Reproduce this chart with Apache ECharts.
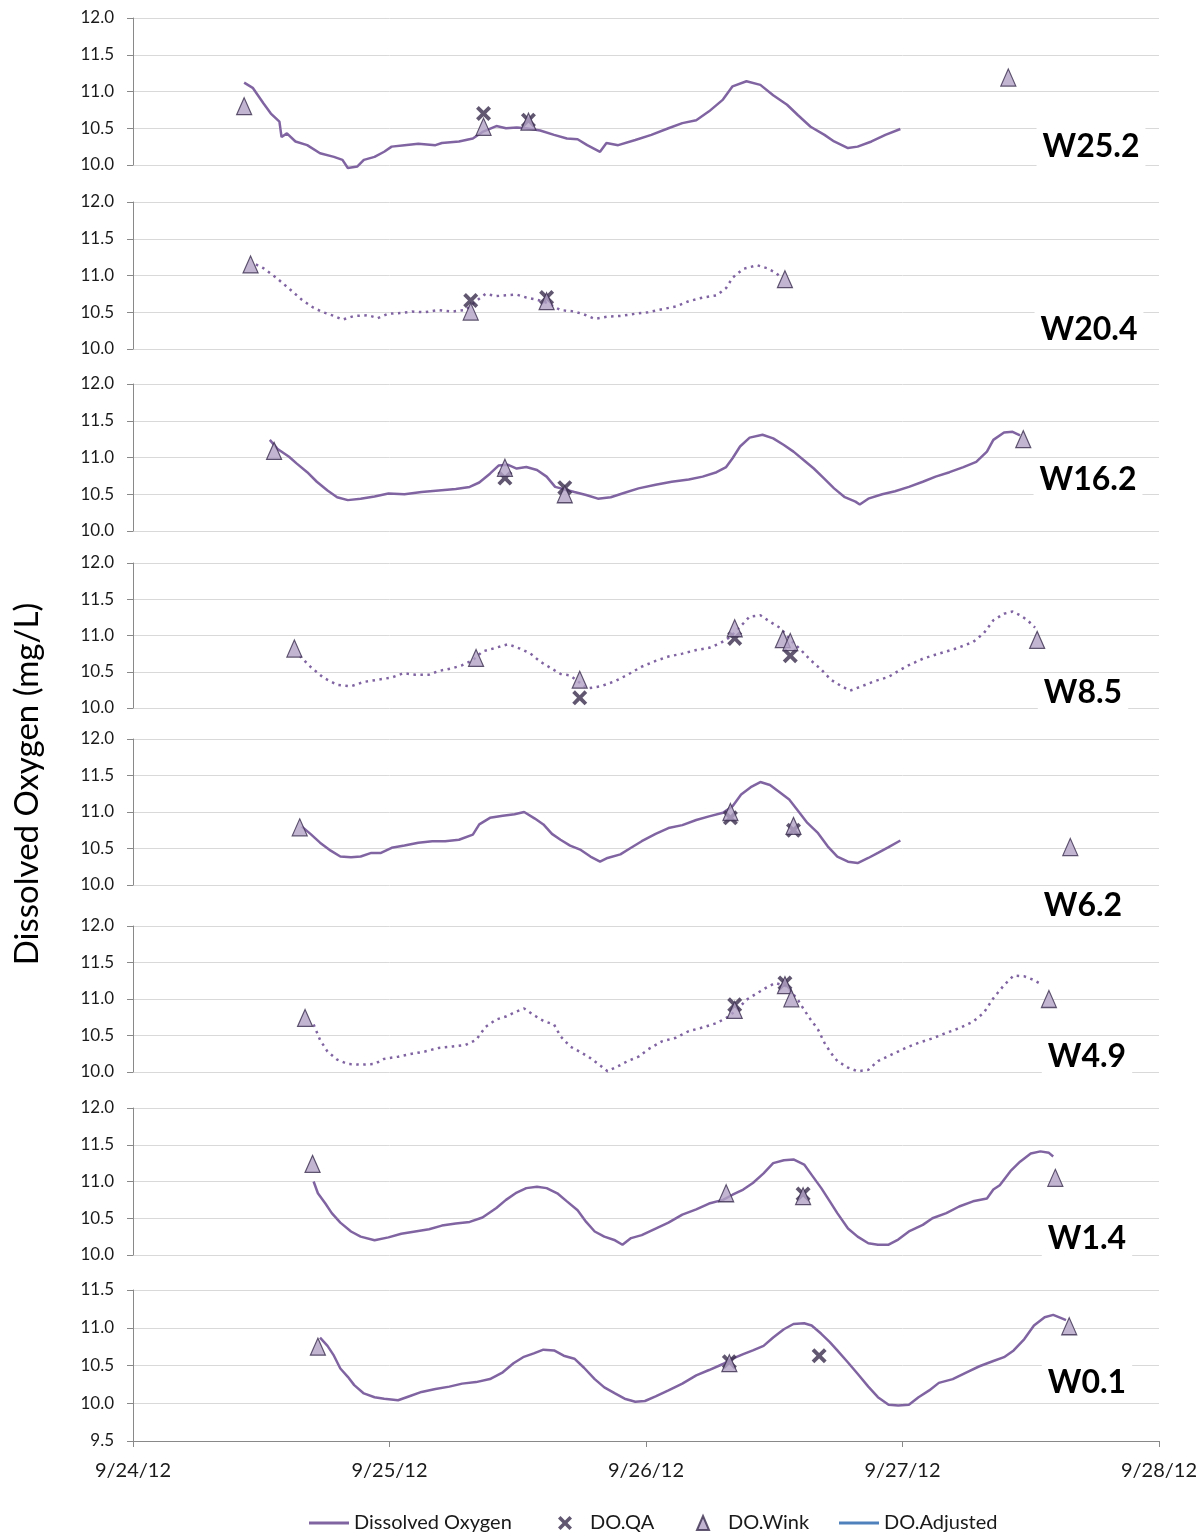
<!DOCTYPE html>
<html>
<head>
<meta charset="utf-8">
<title>Dissolved Oxygen by station</title>
<script src="https://cdn.jsdelivr.net/npm/echarts@6/dist/echarts.min.js"></script>
<style>
  html, body { margin: 0; padding: 0; background: #ffffff; }
  #chart { width: 1204px; height: 1535px; }
</style>
</head>
<body>
<div id="chart"></div>
<script>
// Time is in hours since 9/24/12 00:00; values are dissolved oxygen in mg/L.
const dateLabels = ['9/24/12', '9/25/12', '9/26/12', '9/27/12', '9/28/12'];
const stationNames = ['W25.2', 'W20.4', 'W16.2', 'W8.5', 'W6.2', 'W4.9', 'W1.4', 'W0.1'];
const legendNames = ['Dissolved Oxygen', 'DO.QA', 'DO.Wink', 'DO.Adjusted'];

// ---- W25.2 ----
const w252Line = [[10.4,11.12],[11.2,11.05],[12.2,10.84],[12.9,10.70],[13.7,10.59],[13.9,10.38],[14.4,10.43],[15.2,10.32],[16.3,10.27],[17.5,10.16],[18.8,10.11],[19.6,10.07],[20.1,9.96],[21.0,9.98],[21.6,10.07],[22.6,10.11],[23.5,10.18],[24.2,10.25],[25.4,10.27],[26.7,10.29],[28.3,10.27],[28.9,10.30],[30.5,10.32],[31.8,10.36],[32.7,10.45],[34.0,10.53],[34.9,10.50],[35.9,10.51],[36.8,10.50],[38.1,10.47],[39.4,10.41],[40.6,10.36],[41.6,10.35],[42.5,10.27],[43.7,10.18],[44.3,10.30],[45.4,10.27],[47.0,10.34],[48.5,10.41],[50.1,10.50],[51.4,10.57],[52.7,10.61],[53.9,10.73],[55.2,10.89],[56.1,11.07],[57.4,11.14],[58.7,11.09],[59.9,10.95],[61.2,10.82],[62.2,10.68],[63.4,10.52],[64.7,10.41],[65.6,10.32],[66.9,10.23],[67.8,10.25],[69.1,10.32],[70.4,10.41],[71.8,10.49]];
const w252QA = [[32.8,10.70],[37.0,10.61]];
const w252Wink = [[10.4,10.80],[32.8,10.52],[37.0,10.59],[81.9,11.19]];

// ---- W20.4 ----
const w204Line = [[11.5,11.15],[12.2,11.10],[13.4,10.97],[14.7,10.81],[15.8,10.67],[16.9,10.56],[17.8,10.50],[18.8,10.45],[19.6,10.40],[20.7,10.45],[22.0,10.46],[22.9,10.42],[23.9,10.48],[25.1,10.49],[26.1,10.51],[27.3,10.50],[28.6,10.53],[29.9,10.51],[31.1,10.53],[32.1,10.65],[33.0,10.75],[34.0,10.72],[34.9,10.73],[35.9,10.74],[36.8,10.70],[37.8,10.67],[38.7,10.63],[40.0,10.53],[41.3,10.51],[42.2,10.47],[43.2,10.41],[44.4,10.44],[45.7,10.45],[47.0,10.48],[48.2,10.50],[49.5,10.54],[50.8,10.58],[52.0,10.65],[53.3,10.70],[54.6,10.73],[55.5,10.83],[56.1,10.97],[57.1,11.09],[58.4,11.14],[59.3,11.10],[60.1,11.04],[60.6,10.98]];
const w204QA = [[31.6,10.66],[38.7,10.70]];
const w204Wink = [[11.0,11.15],[31.6,10.51],[38.7,10.65],[61.0,10.95]];

// ---- W16.2 ----
const w162Line = [[12.8,11.24],[13.5,11.12],[14.6,11.01],[15.3,10.92],[16.3,10.80],[17.2,10.67],[18.2,10.55],[19.1,10.46],[20.1,10.42],[21.3,10.44],[22.6,10.47],[23.9,10.51],[25.4,10.50],[27.0,10.53],[28.6,10.55],[30.2,10.57],[31.5,10.60],[32.4,10.66],[33.4,10.78],[34.2,10.89],[35.1,10.90],[35.9,10.85],[36.8,10.87],[37.8,10.83],[38.7,10.74],[39.5,10.60],[40.3,10.57],[41.3,10.53],[42.4,10.49],[43.5,10.44],[44.7,10.46],[46.0,10.52],[47.3,10.58],[48.9,10.63],[50.4,10.67],[52.0,10.70],[53.3,10.74],[54.6,10.80],[55.5,10.87],[56.1,10.99],[56.8,11.15],[57.7,11.27],[58.9,11.31],[59.9,11.26],[60.9,11.17],[61.8,11.08],[62.8,10.96],[63.7,10.85],[64.7,10.71],[65.6,10.58],[66.6,10.46],[67.6,10.40],[68.0,10.36],[68.8,10.44],[70.1,10.50],[71.3,10.54],[72.6,10.60],[73.9,10.67],[75.1,10.74],[76.4,10.80],[77.7,10.87],[78.9,10.94],[79.9,11.08],[80.5,11.24],[81.5,11.34],[82.3,11.35],[83.0,11.30]];
const w162QA = [[34.8,10.72],[40.4,10.59]];
const w162Wink = [[13.2,11.09],[34.8,10.86],[40.4,10.50],[83.3,11.25]];

// ---- W8.5 ----
const w85Line = [[15.6,10.72],[16.6,10.57],[17.8,10.42],[19.1,10.32],[20.4,10.30],[21.6,10.36],[22.9,10.39],[24.2,10.42],[25.3,10.48],[26.4,10.46],[27.7,10.46],[28.6,10.51],[29.9,10.55],[30.8,10.59],[31.8,10.66],[32.7,10.78],[33.7,10.82],[35.1,10.88],[36.2,10.82],[37.2,10.75],[38.1,10.64],[39.1,10.55],[40.0,10.47],[40.9,10.45],[42.5,10.27],[43.8,10.30],[45.1,10.37],[46.3,10.46],[47.6,10.57],[48.9,10.65],[50.1,10.71],[51.4,10.75],[52.7,10.80],[53.9,10.83],[54.9,10.89],[55.8,10.97],[56.8,11.12],[57.7,11.26],[58.7,11.28],[59.6,11.19],[60.6,11.10],[61.5,10.94],[62.5,10.80],[63.4,10.66],[64.4,10.53],[65.3,10.39],[66.3,10.30],[67.1,10.24],[68.2,10.30],[69.4,10.37],[70.7,10.43],[72.3,10.57],[73.9,10.68],[75.4,10.75],[77.0,10.82],[78.6,10.91],[79.6,11.03],[80.5,11.21],[81.5,11.30],[82.3,11.33],[83.0,11.28],[83.7,11.21],[84.4,11.11]];
const w85QA = [[41.8,10.14],[56.3,10.96],[61.5,10.72]];
const w85Wink = [[15.1,10.82],[32.1,10.69],[41.8,10.39],[56.3,11.10],[60.8,10.95],[61.5,10.91],[84.6,10.94]];

// ---- W6.2 ----
const w62Line = [[15.8,10.80],[16.6,10.70],[17.5,10.58],[18.5,10.47],[19.4,10.39],[20.4,10.38],[21.3,10.39],[22.3,10.44],[23.2,10.44],[24.2,10.51],[25.4,10.54],[26.7,10.58],[28.0,10.60],[29.2,10.60],[30.5,10.62],[31.8,10.69],[32.4,10.83],[33.4,10.92],[34.6,10.95],[35.7,10.97],[36.6,11.00],[37.6,10.91],[38.4,10.83],[39.2,10.70],[40.0,10.62],[40.9,10.54],[41.9,10.48],[42.8,10.39],[43.7,10.32],[44.4,10.37],[45.6,10.42],[46.6,10.51],[47.6,10.60],[48.9,10.70],[50.1,10.78],[51.4,10.82],[52.7,10.89],[53.9,10.94],[55.2,10.99],[56.1,11.08],[56.9,11.24],[57.8,11.34],[58.7,11.41],[59.6,11.37],[60.6,11.26],[61.4,11.17],[62.2,11.02],[63.1,10.85],[64.1,10.71],[65.0,10.53],[65.9,10.39],[66.9,10.32],[67.8,10.30],[68.8,10.37],[69.7,10.44],[70.7,10.52],[71.8,10.61]];
const w62QA = [[55.9,10.92],[61.8,10.75]];
const w62Wink = [[15.6,10.79],[55.9,11.00],[61.8,10.81],[87.7,10.52]];

// ---- W4.9 ----
const w49Line = [[16.9,10.65],[17.5,10.44],[18.2,10.28],[19.1,10.17],[20.1,10.11],[21.3,10.10],[22.6,10.11],[23.5,10.18],[24.8,10.21],[26.1,10.25],[27.3,10.28],[28.6,10.33],[29.9,10.35],[31.1,10.37],[32.1,10.44],[33.0,10.62],[34.0,10.72],[34.9,10.76],[35.9,10.83],[36.6,10.87],[37.5,10.78],[38.4,10.70],[39.4,10.65],[40.0,10.49],[40.9,10.35],[41.9,10.27],[42.8,10.19],[43.8,10.08],[44.4,10.01],[45.4,10.08],[46.3,10.15],[47.3,10.21],[48.2,10.31],[49.5,10.42],[50.8,10.47],[52.0,10.56],[53.3,10.61],[54.6,10.67],[55.5,10.74],[56.5,10.85],[57.4,10.99],[58.4,11.08],[59.3,11.16],[60.1,11.22],[61.2,11.17],[62.2,10.99],[62.8,10.85],[63.4,10.72],[64.1,10.58],[64.7,10.40],[65.3,10.26],[65.9,10.15],[66.9,10.06],[67.8,10.01],[68.8,10.03],[69.7,10.15],[71.0,10.24],[72.3,10.33],[73.5,10.40],[74.8,10.46],[76.0,10.53],[77.3,10.60],[78.6,10.69],[79.6,10.81],[80.5,11.01],[81.5,11.19],[82.4,11.32],[83.4,11.31],[84.3,11.26],[85.1,11.19]];
const w49QA = [[56.3,10.92],[61.0,11.22]];
const w49Wink = [[16.1,10.74],[56.3,10.85],[61.0,11.19],[61.6,11.01],[85.7,11.00]];

// ---- W1.4 ----
const w14Line = [[16.9,11.00],[17.3,10.84],[18.0,10.70],[18.6,10.57],[19.4,10.44],[20.4,10.32],[21.3,10.25],[22.6,10.20],[23.9,10.24],[25.1,10.29],[26.4,10.32],[27.7,10.35],[28.9,10.40],[30.2,10.43],[31.5,10.45],[32.7,10.51],[34.0,10.64],[34.9,10.75],[35.9,10.85],[36.8,10.91],[37.8,10.93],[38.7,10.91],[39.7,10.84],[40.6,10.73],[41.6,10.61],[42.4,10.45],[43.2,10.32],[44.1,10.25],[45.1,10.20],[45.8,10.14],[46.6,10.23],[47.6,10.27],[48.9,10.36],[50.1,10.44],[51.4,10.55],[52.7,10.62],[53.9,10.70],[55.2,10.75],[56.1,10.82],[57.1,10.89],[58.0,10.98],[59.0,11.11],[59.9,11.25],[60.9,11.29],[61.8,11.30],[62.8,11.23],[63.5,11.09],[64.4,10.91],[65.2,10.73],[65.9,10.57],[66.9,10.36],[67.8,10.25],[68.8,10.16],[69.7,10.14],[70.7,10.14],[71.6,10.21],[72.6,10.32],[73.9,10.41],[74.8,10.50],[76.1,10.57],[77.3,10.66],[78.6,10.73],[79.9,10.77],[80.5,10.89],[81.1,10.95],[82.1,11.14],[83.0,11.27],[84.0,11.38],[84.9,11.41],[85.7,11.39],[86.1,11.34]];
const w14QA = [[62.7,10.83]];
const w14Wink = [[16.8,11.24],[55.5,10.84],[62.7,10.80],[86.3,11.05]];

// ---- W0.1 ----
const w01Line = [[17.5,10.87],[18.2,10.76],[18.8,10.63],[19.4,10.46],[20.1,10.35],[20.7,10.24],[21.6,10.13],[22.6,10.08],[23.5,10.06],[24.8,10.04],[25.8,10.09],[27.0,10.15],[28.3,10.19],[29.6,10.22],[30.8,10.26],[32.1,10.28],[33.4,10.32],[34.6,10.41],[35.6,10.53],[36.5,10.61],[37.5,10.66],[38.4,10.71],[39.4,10.70],[40.3,10.63],[41.3,10.59],[42.2,10.47],[43.2,10.32],[44.1,10.21],[45.1,10.13],[46.0,10.06],[47.0,10.02],[47.9,10.03],[48.9,10.09],[50.1,10.17],[51.4,10.26],[52.7,10.37],[53.9,10.44],[55.2,10.52],[56.1,10.59],[57.1,10.65],[58.0,10.70],[59.0,10.76],[59.9,10.87],[60.9,10.98],[61.8,11.05],[62.8,11.06],[63.5,11.03],[64.4,10.92],[65.2,10.81],[65.9,10.70],[66.9,10.54],[67.8,10.39],[68.8,10.22],[69.7,10.08],[70.7,9.98],[71.6,9.97],[72.6,9.98],[73.5,10.08],[74.5,10.17],[75.4,10.27],[76.7,10.32],[78.0,10.41],[79.2,10.49],[80.5,10.56],[81.5,10.61],[82.4,10.70],[83.4,10.85],[84.3,11.03],[85.3,11.14],[86.1,11.17],[86.8,11.13],[87.3,11.10]];
const w01QA = [[55.8,10.55],[64.2,10.63]];
const w01Wink = [[17.3,10.75],[55.8,10.53],[87.6,11.02]];

// Series grouped per station (data only).
const stationLines = [w252Line, w204Line, w162Line, w85Line, w62Line, w49Line, w14Line, w01Line];
const stationQA = [w252QA, w204QA, w162QA, w85QA, w62QA, w49QA, w14QA, w01QA];
const stationWink = [w252Wink, w204Wink, w162Wink, w85Wink, w62Wink, w49Wink, w14Wink, w01Wink];

// Panel layout: plot area placement, y range, line style and station tag position.
const panelLayout = [
  { top: 18,   height: 147, yMin: 10,  yMax: 12,   dotted: false, tagX: 1091, tagY: 147 },
  { top: 202,  height: 147, yMin: 10,  yMax: 12,   dotted: true,  tagX: 1089, tagY: 330 },
  { top: 384,  height: 147, yMin: 10,  yMax: 12,   dotted: false, tagX: 1088, tagY: 480 },
  { top: 563,  height: 145, yMin: 10,  yMax: 12,   dotted: true,  tagX: 1083, tagY: 693 },
  { top: 739,  height: 146, yMin: 10,  yMax: 12,   dotted: false, tagX: 1083, tagY: 906 },
  { top: 926,  height: 146, yMin: 10,  yMax: 12,   dotted: true,  tagX: 1087, tagY: 1057 },
  { top: 1108, height: 147, yMin: 10,  yMax: 12,   dotted: false, tagX: 1087, tagY: 1239 },
  { top: 1290, height: 151, yMin: 9.5, yMax: 11.5, dotted: false, tagX: 1087, tagY: 1383 }
];

const FONT = 'Lato, "Open Sans", sans-serif';
const LINE_COLOR = '#8064a2';
const WINK_FILL = '#b3a2c7';
const DARK = '#3a2d4d';
const AXIS_GRAY = '#898989';
const GRID_GRAY = '#d9d9d9';
const X_SYMBOL = 'path://M0,1.8L1.8,0L5,3.2L8.2,0L10,1.8L6.8,5L10,8.2L8.2,10L5,6.8L1.8,10L0,8.2L3.2,5Z';
const TRIANGLE_ICON = 'path://M6,0L12,14L0,14Z';
const LINE_ICON = 'path://M0,0H40V3H0Z';

const grids = [], xAxes = [], yAxes = [], series = [], graphics = [];
const last = panelLayout.length - 1;

panelLayout.forEach((p, i) => {
  grids.push({ left: 133, right: 45, top: p.top, height: p.height, containLabel: false });

  xAxes.push({
    type: 'value', gridIndex: i, min: 0, max: 96, interval: 24,
    show: i === last,
    axisLine: { show: true, lineStyle: { color: AXIS_GRAY, width: 1 } },
    axisTick: { show: true, length: 6, lineStyle: { color: AXIS_GRAY } },
    axisLabel: {
      show: i === last, margin: 20,
      color: '#1a1a1a', fontFamily: FONT, fontSize: 20,
      formatter: v => dateLabels[Math.round(v / 24)]
    },
    splitLine: { show: false }
  });

  yAxes.push({
    type: 'value', gridIndex: i, min: p.yMin, max: p.yMax, interval: 0.5,
    axisLine: { show: true, lineStyle: { color: AXIS_GRAY, width: 1 } },
    axisTick: { show: true, length: 6, lineStyle: { color: AXIS_GRAY } },
    axisLabel: {
      margin: 19, color: '#1a1a1a', fontFamily: FONT, fontSize: 17,
      formatter: v => v.toFixed(1)
    },
    splitLine: { show: true, lineStyle: { color: GRID_GRAY, width: 1 } }
  });

  series.push({
    name: legendNames[0], type: 'line', xAxisIndex: i, yAxisIndex: i,
    data: stationLines[i], symbol: 'none', showSymbol: false, clip: false,
    lineStyle: { color: LINE_COLOR, width: 2.5, type: p.dotted ? [2.5, 4.5] : 'solid' },
    itemStyle: { color: LINE_COLOR }, z: 2, silent: true
  });
  series.push({
    name: legendNames[1], type: 'scatter', xAxisIndex: i, yAxisIndex: i,
    data: stationQA[i], symbol: X_SYMBOL, symbolSize: 15,
    itemStyle: { color: DARK }, z: 3
  });
  series.push({
    name: legendNames[2], type: 'scatter', xAxisIndex: i, yAxisIndex: i,
    data: stationWink[i], symbol: 'triangle', symbolSize: [15, 17],
    itemStyle: { color: WINK_FILL, borderColor: DARK, borderWidth: 1.2 }, z: 4
  });

  graphics.push({
    type: 'text', x: p.tagX, y: p.tagY, z: 10,
    style: {
      text: stationNames[i], font: 'bold 32px ' + FONT, fill: '#000',
      align: 'center', verticalAlign: 'middle',
      backgroundColor: '#ffffff', padding: [3, 6]
    }
  });
});

// Adjusted series has no readings in this period; it only appears in the legend.
series.push({
  name: legendNames[3], type: 'line', xAxisIndex: 0, yAxisIndex: 0, data: [],
  symbol: 'none', lineStyle: { color: '#4f81bd', width: 3 }, itemStyle: { color: '#4f81bd' }
});

graphics.push({
  type: 'text', x: 27, y: 784, rotation: Math.PI / 2,
  style: {
    text: 'Dissolved Oxygen (mg/L)', font: '33px ' + FONT, fill: '#000',
    align: 'center', verticalAlign: 'middle'
  }
});

// One legend block per entry so each key sits at its own spot along the bottom row.
const legendIcons = [LINE_ICON, X_SYMBOL, TRIANGLE_ICON, LINE_ICON];
const legendLefts = [304, 553, 691, 834];
const legends = legendNames.map((name, k) => ({
  data: [{ name: name, icon: legendIcons[k] }],
  left: legendLefts[k], top: 1508,
  itemWidth: 40, itemHeight: 14, itemGap: 0,
  symbolKeepAspect: true,
  textStyle: { fontFamily: FONT, fontSize: 20, color: '#1a1a1a' },
  selectedMode: false
}));

const chart = echarts.init(document.getElementById('chart'), null, { renderer: 'canvas' });
chart.setOption({
  animation: false,
  backgroundColor: '#ffffff',
  grid: grids,
  xAxis: xAxes,
  yAxis: yAxes,
  legend: legends,
  series: series,
  graphic: graphics
});
</script>
</body>
</html>
